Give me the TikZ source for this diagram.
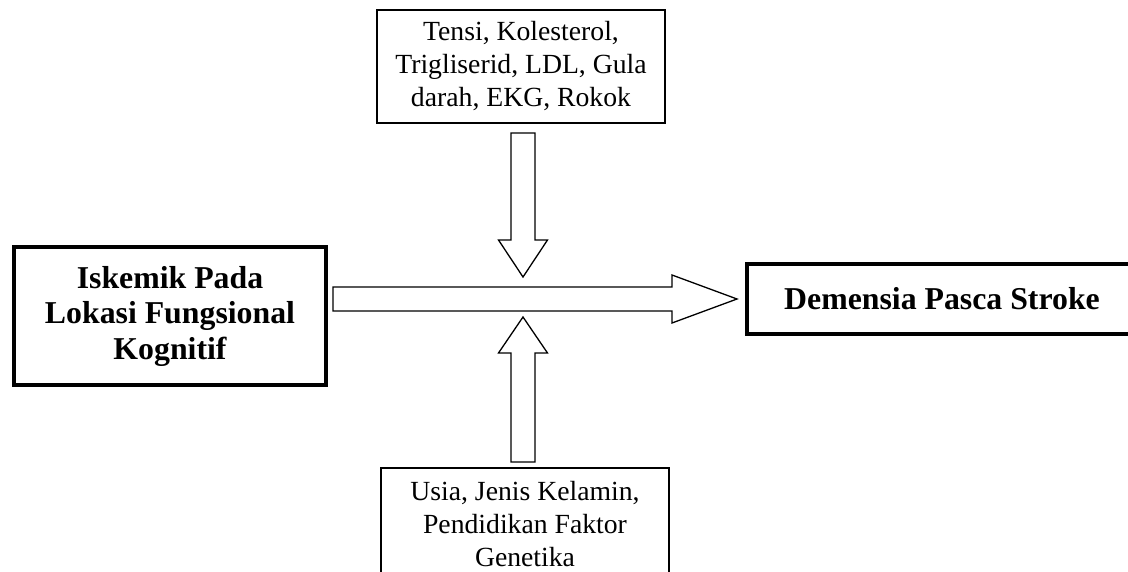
\documentclass[tikz,border=0pt]{standalone}
\usepackage{fontspec}
\setmainfont{Liberation Serif}
\usepackage{tikz}

\begin{document}
\begin{tikzpicture}[x=1pt, y=-1pt,
		box_style/.style={rectangle,draw=black,line width=1.3pt,align=center,
			font=\fontsize{27.7}{33}\selectfont},
		main_style/.style={rectangle,draw=black,line width=4.2pt,align=center,
			font=\fontsize{31.8}{35.5}\selectfont\bfseries},
		arrow_style/.style={draw=black,fill=white,line width=1.3pt,line join=miter}]

		\useasboundingbox (0,0) rectangle (1128,572);

		\node[main_style, minimum width=312pt, minimum height=138pt] (iskemik) at (170,316)
			{Iskemik Pada\\Lokasi Fungsional\\Kognitif};
		\node[main_style, minimum width=390pt, minimum height=70pt] (demensia) at (942,299)
			{Demensia Pasca Stroke};
		\node[box_style, minimum width=288pt, minimum height=113pt] (faktor1) at (521,66.5)
			{Tensi, Kolesterol,\\Trigliserid, LDL, Gula\\darah, EKG, Rokok};
		\node[box_style, minimum width=288pt, minimum height=113pt] (faktor2) at (525,524.5)
			{Usia, Jenis Kelamin,\\Pendidikan Faktor\\Genetika};

		% horizontal block arrow
		\draw[arrow_style] (333,287) -- (672,287) -- (672,275) -- (737,299)
			-- (672,323) -- (672,311) -- (333,311) -- cycle;
		% arrow from top
		\draw[arrow_style] (511,133) -- (535,133) -- (535,240) -- (547.5,240)
			-- (523,277) -- (498.5,240) -- (511,240) -- cycle;
		% arrow from bottom
		\draw[arrow_style] (511,462) -- (511,353) -- (498.5,353) -- (523,317)
			-- (547.5,353) -- (535,353) -- (535,462) -- cycle;

\end{tikzpicture}
\end{document}
